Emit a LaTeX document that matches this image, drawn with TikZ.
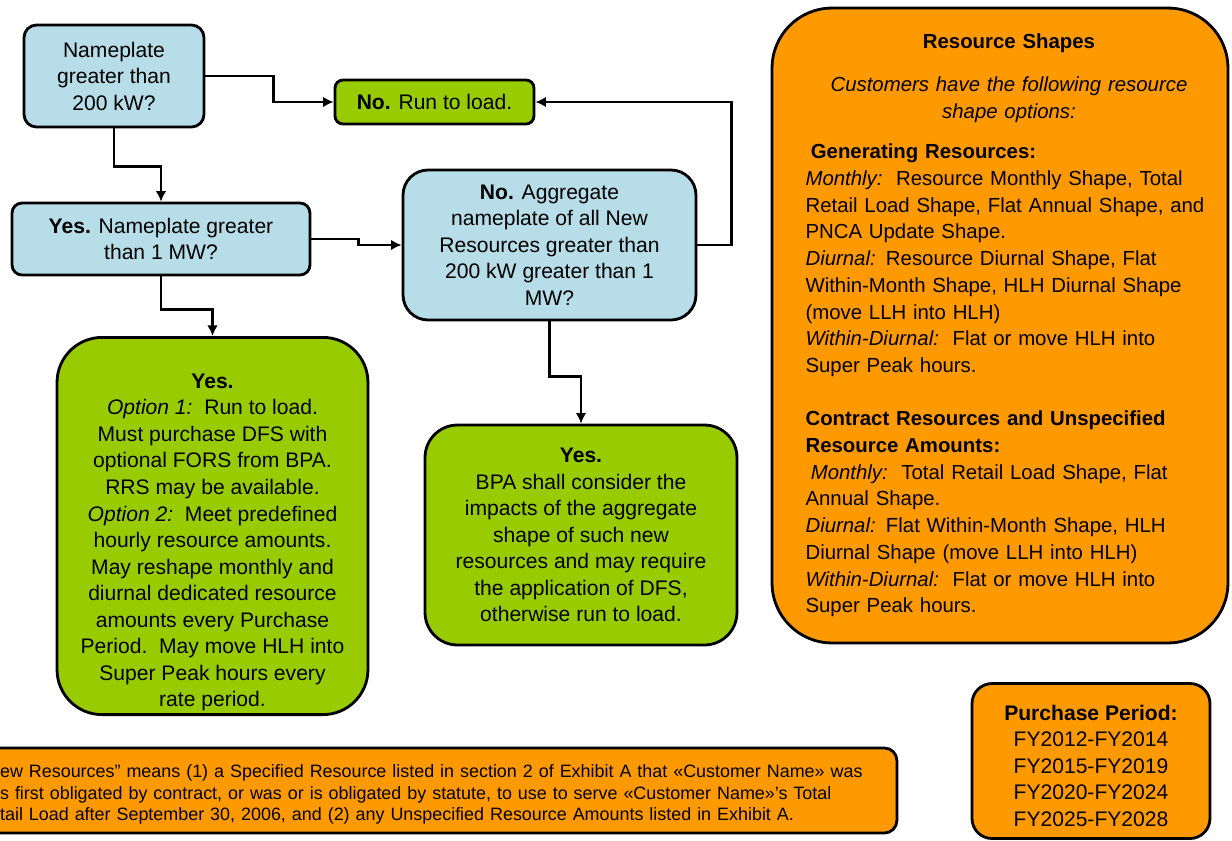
\documentclass[tikz,border=0pt]{standalone}
\usepackage{fontspec}
\setmainfont{Liberation Sans}
\usetikzlibrary{arrows.meta}
\definecolor{paleblue}{HTML}{B7DDE8}
\definecolor{leafgreen}{HTML}{99CC00}
\definecolor{amber}{HTML}{FF9900}

\begin{document}
\begin{tikzpicture}[x=.02cm,y=-.02cm,
  box/.style={draw,line width=1.6pt,align=center,inner sep=2pt,font=\fontsize{12}{15.1}\selectfont},
  ask/.style={box,fill=paleblue},
  answer/.style={box,fill=leafgreen},
  note/.style={box,fill=amber},
  arr/.style={line width=1.6pt,-{Latex[length=6pt,width=6pt]}}]
\useasboundingbox (0,0) rectangle (1232,840);
\clip (0,0) rectangle (1232,840);
% questions
\node[ask,rounded corners=.25cm,minimum width=3.6cm,minimum height=2.04cm] (size200) at (114,76){Nameplate\\greater than\\200 kW?};
\node[ask,rounded corners=.2cm,minimum width=5.96cm,minimum height=1.44cm] (size1mw) at (161,239){\textbf{Yes.} Nameplate greater\\than 1 MW?};
\node[ask,rounded corners=.5cm,minimum width=5.86cm,minimum height=3cm] (aggr) at (549.5,245){\textbf{No.} Aggregate\\nameplate of all New\\Resources greater than\\200 kW greater than 1\\MW?};
% answers
\node[answer,rounded corners=.16cm,minimum width=3.98cm,minimum height=.88cm] (runload) at (434.5,102){\textbf{No.} Run to load.};
\node[answer,rounded corners=.9cm,minimum width=6.22cm,minimum height=7.24cm] (options) at (212.5,526){\rule{0pt}{27pt}\textbf{Yes.}\\\textit{Option 1:}\ \ Run to load.\\Must purchase DFS with\\optional FORS from BPA.\\RRS may be available.\\\textit{Option 2:}\ \ Meet predefined\\hourly resource amounts.\\May reshape monthly and\\diurnal dedicated resource\\amounts every Purchase\\Period.\ \ May move HLH into\\Super Peak hours every\\rate period.};
\node[answer,rounded corners=.65cm,minimum width=6.24cm,minimum height=4.4cm] (bpa) at (581,535){\textbf{Yes.}\\BPA shall consider the\\impacts of the aggregate\\shape of such new\\resources and may require\\the application of DFS,\\otherwise run to load.};
% notes
\node[note,rounded corners=1.2cm,minimum width=9.12cm,minimum height=12.7cm,text width=8.5cm,align=left,font=\fontsize{11.6}{15.2}\selectfont] (shapes) at (1000,325.5){%
\leftskip=.36cm
{\centering\leftskip=.36cm plus 1fil\textbf{Resource Shapes}\\[9pt]\textit{Customers have the following resource}\\\textit{shape options:}\par}\vspace{8pt}
\hspace*{3pt}\textbf{Generating Resources:}\\
\textit{Monthly:}\ \ Resource Monthly Shape, Total\\
Retail Load Shape, Flat Annual Shape, and\\
PNCA Update Shape.\\
\textit{Diurnal:} Resource Diurnal Shape, Flat\\
Within-Month Shape, HLH Diurnal Shape\\
(move LLH into HLH)\\
\textit{Within-Diurnal:}\ \ Flat or move HLH into\\
Super Peak hours.\\[15.2pt]
\textbf{Contract Resources and Unspecified}\\
\textbf{Resource Amounts:}\\
\hspace*{3pt}\textit{Monthly:}\ \ Total Retail Load Shape, Flat\\
Annual Shape.\\
\textit{Diurnal:} Flat Within-Month Shape, HLH\\
Diurnal Shape (move LLH into HLH)\\
\textit{Within-Diurnal:}\ \ Flat or move HLH into\\
Super Peak hours.\par};
\node[note,rounded corners=.4cm,minimum width=4.76cm,minimum height=3.1cm] (periods) at (1091,761){\rule{0pt}{14pt}\textbf{Purchase Period:}\\FY2012-FY2014\\FY2015-FY2019\\FY2020-FY2024\\FY2025-FY2028};
\node[note,rounded corners=.25cm,minimum width=18.34cm,minimum height=1.7cm,text width=17.54cm,inner xsep=.4cm,align=left,font=\fontsize{10.2}{12.3}\selectfont] (newres) at (438.5,790.5){\rule{0pt}{12pt}ew Resources” means (1) a Specified Resource listed in section 2 of Exhibit A that «Customer Name» was\\s first obligated by contract, or was or is obligated by statute, to use to serve «Customer Name»’s Total\\tail Load after September 30, 2006, and (2) any Unspecified Resource Amounts listed in Exhibit A.};
% connectors
\draw[arr] (size200.east) -- ++(68,0) |- (runload.west);
\draw[arr] (size200.south) -- ++(0,38) -| (size1mw.north);
\draw[arr] (size1mw.east) -- ++(47,0) |- (aggr.west);
\draw[arr] (aggr.east) -- ++(34,0) |- (runload.east);
\draw[arr] (size1mw.south) -- ++(0,33) -| (options.north);
\draw[arr] (aggr.south) -- ++(0,55) -| (bpa.north);
\end{tikzpicture}
\end{document}
